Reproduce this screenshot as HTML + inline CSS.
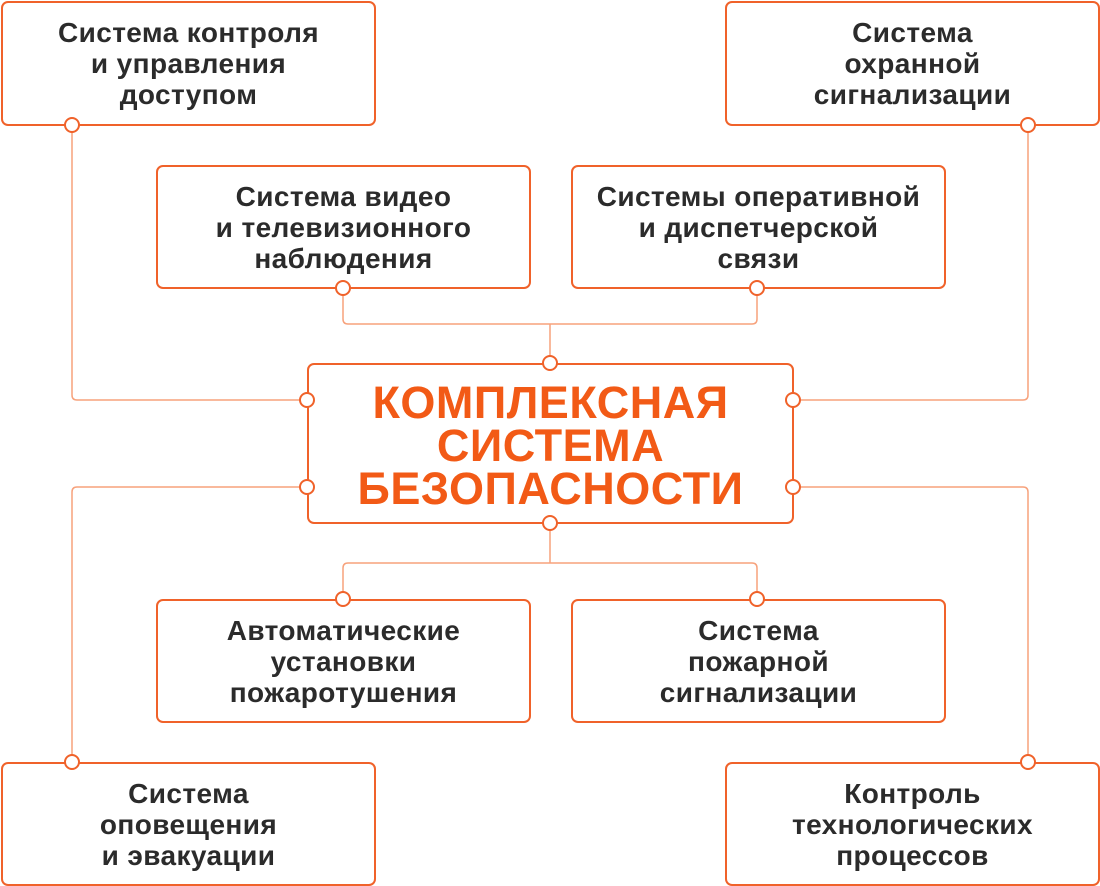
<!DOCTYPE html>
<html><head><meta charset="utf-8"><style>
body{margin:0;background:#fff;width:1100px;height:886px;position:relative;overflow:hidden;font-family:"Liberation Sans","DejaVu Sans",sans-serif}
.b{position:absolute;box-sizing:border-box;border:2px solid #f0622a;border-radius:7px;background:#fff;display:flex;align-items:center;justify-content:center;text-align:center;color:#2b2b2b;font-size:28px;line-height:31px;font-weight:bold;letter-spacing:0.4px}
.t{color:#f25a16;font-size:45px;line-height:43px;font-weight:900;letter-spacing:0.5px;padding-top:4px}
svg{position:absolute;left:0;top:0}
</style></head><body>
<svg width="1100" height="886">
<g fill="none" stroke="#f7a27c" stroke-width="1.5">
<path d="M72 125V395q0 5 5 5H307"/>
<path d="M1028 125V395q0 5-5 5H793"/>
<path d="M72 762V492q0-5 5-5H307"/>
<path d="M1028 762V492q0-5-5-5H793"/>
<path d="M343 288V319q0 5 5 5H752q5 0 5-5V288M550 324V363"/>
<path d="M343 599V568q0-5 5-5H752q5 0 5 5V599M550 563V523"/>
</g>
</svg>
<div class="b" style="left:1px;top:1px;width:375px;height:125px">Система контроля<br>и управления<br>доступом</div>
<div class="b" style="left:725px;top:1px;width:375px;height:125px">Система<br>охранной<br>сигнализации</div>
<div class="b" style="left:156px;top:165px;width:375px;height:124px">Система видео<br>и телевизионного<br>наблюдения</div>
<div class="b" style="left:571px;top:165px;width:375px;height:124px">Системы оперативной<br>и диспетчерской<br>связи</div>
<div class="b t" style="left:307px;top:363px;width:487px;height:161px">КОМПЛЕКСНАЯ<br>СИСТЕМА<br>БЕЗОПАСНОСТИ</div>
<div class="b" style="left:156px;top:599px;width:375px;height:124px">Автоматические<br>установки<br>пожаротушения</div>
<div class="b" style="left:571px;top:599px;width:375px;height:124px">Система<br>пожарной<br>сигнализации</div>
<div class="b" style="left:1px;top:762px;width:375px;height:124px">Система<br>оповещения<br>и эвакуации</div>
<div class="b" style="left:725px;top:762px;width:375px;height:124px">Контроль<br>технологических<br>процессов</div>
<svg width="1100" height="886">
<g fill="#fff" stroke="#f0622a" stroke-width="2">
<circle cx="72" cy="125" r="7"/><circle cx="1028" cy="125" r="7"/>
<circle cx="343" cy="288" r="7"/><circle cx="757" cy="288" r="7"/>
<circle cx="550" cy="363" r="7"/><circle cx="550" cy="523" r="7"/>
<circle cx="307" cy="400" r="7"/><circle cx="307" cy="487" r="7"/>
<circle cx="793" cy="400" r="7"/><circle cx="793" cy="487" r="7"/>
<circle cx="343" cy="599" r="7"/><circle cx="757" cy="599" r="7"/>
<circle cx="72" cy="762" r="7"/><circle cx="1028" cy="762" r="7"/>
</g>
</svg>
</body></html>
